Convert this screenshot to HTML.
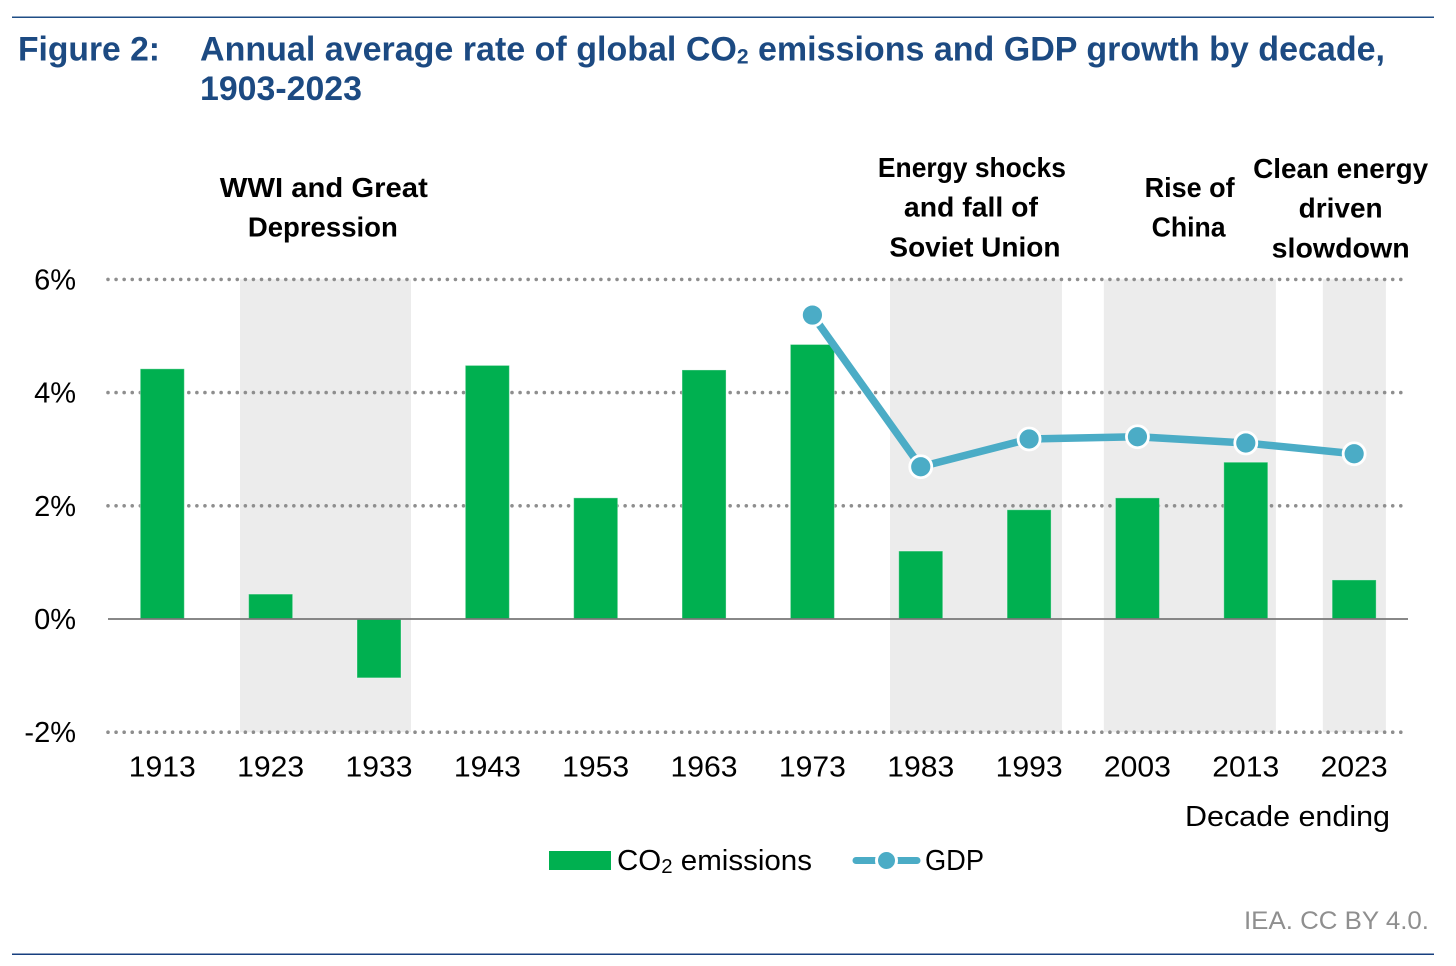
<!DOCTYPE html>
<html lang="en">
<head>
<meta charset="utf-8">
<title>Figure 2</title>
<style>
html,body{margin:0;padding:0;background:#fff;}
svg{display:block;}
text{font-family:"Liberation Sans",Arial,sans-serif;}
</style>
</head>
<body>
<svg id="chart" width="1456" height="966" viewBox="0 0 1456 966" xmlns="http://www.w3.org/2000/svg">
  <rect x="0" y="0" width="1456" height="966" fill="#ffffff"/>
  <rect x="12" y="16.5" width="1422" height="1.5" fill="#1f4e86"/>
  <rect x="12" y="953.5" width="1422" height="1.5" fill="#173f7f"/>
  <text x="18" y="60.5" font-size="34" font-weight="700" fill="#1c4a82" textLength="142" lengthAdjust="spacingAndGlyphs">Figure 2:</text>
  <text x="200" y="60.5" font-size="34" font-weight="700" fill="#1c4a82" textLength="1185" lengthAdjust="spacingAndGlyphs">Annual average rate of global CO<tspan font-size="21" dy="3">2</tspan><tspan dy="-3"> emissions and GDP growth by decade,</tspan></text>
  <text x="200" y="100" font-size="34" font-weight="700" fill="#1c4a82" textLength="162" lengthAdjust="spacingAndGlyphs">1903-2023</text>

  <g id="bands"></g>
  <g id="grid"></g>
  <g id="bars"></g>
  <g id="axis"></g>
  <g id="line"></g>
  <g id="annotations"></g>

  <text x="1185" y="826" font-size="29" fill="#000" textLength="205" lengthAdjust="spacingAndGlyphs">Decade ending</text>

  <g>
    <rect x="549" y="851" width="62" height="19" fill="#00b050"/>
    <text x="617" y="870" font-size="29" fill="#000" textLength="195" lengthAdjust="spacingAndGlyphs">CO<tspan font-size="20" dy="3">2</tspan><tspan dy="-3"> emissions</tspan></text>
    <line x1="856" y1="860.5" x2="917" y2="860.5" stroke="#4bacc6" stroke-width="7" stroke-linecap="round"/>
    <circle cx="886.5" cy="860.5" r="10" fill="#4bacc6" stroke="#fff" stroke-width="3"/>
    <text x="925" y="870" font-size="29" fill="#000" textLength="59" lengthAdjust="spacingAndGlyphs">GDP</text>
  </g>

  <text x="1244" y="929" font-size="25" fill="#8f8f8f" textLength="185" lengthAdjust="spacingAndGlyphs">IEA. CC BY 4.0.</text>
</svg>
<script>
var decades = ['1913','1923','1933','1943','1953','1963','1973','1983','1993','2003','2013','2023'];
var co2Values = [4.42,0.44,-1.04,4.48,2.14,4.40,4.85,1.20,1.93,2.14,2.77,0.69];
var gdpValues = [null,null,null,null,null,null,5.37,2.69,3.18,3.22,3.11,2.92];
var yTicks = [6,4,2,0,-2];
var shadedRanges = [[1920.17,1935.95],[1980.16,1996.03],[1999.9,2015.78],[2020.11,2025.93]];
var annotationTexts = [
  {name:'wwi-and-depression', year:1928, lines:['WWI and Great','Depression'], shifts:[-1,-2], widths:[208,150], top:197},
  {name:'energy-shocks', year:1988, lines:['Energy shocks','and fall of','Soviet Union'], shifts:[-3,-4,0], widths:[188,134,171], top:177},
  {name:'rise-of-china', year:2008, lines:['Rise of','China'], shifts:[-2,-3], widths:[90,74], top:197},
  {name:'clean-energy', year:2023, lines:['Clean energy','driven','slowdown'], shifts:[-13.5,-13.5,-13.5], widths:[175,84,138], top:178}
];

var NS = 'http://www.w3.org/2000/svg';
function make(tag, parent, attrs) {
  var el = document.createElementNS(NS, tag);
  for (var k in attrs) { el.setAttribute(k, attrs[k]); }
  parent.appendChild(el);
  return el;
}
function xYear(y) { return 162.3 + (y - 1913) * 10.835; }
function xPos(i) { return xYear(Number(decades[i])); }
function yPos(v) { return 619 - v * 56.6; }

var bandsG = document.getElementById('bands');
shadedRanges.forEach(function (r) {
  var left = xYear(r[0]);
  var right = xYear(r[1]);
  var band = make('rect', bandsG, {x:left, y:yPos(6), width:right - left, height:yPos(-2) - yPos(6), fill:'#ececec'});
  
  
});

var gridG = document.getElementById('grid');
var axisG = document.getElementById('axis');
yTicks.forEach(function (t) {
  if (t !== 0) {
    var g = make('line', gridG, {x1:108, x2:1404, y1:yPos(t), y2:yPos(t), stroke:'#8e8e8e', 'stroke-width':3.6, 'stroke-linecap':'round', 'stroke-dasharray':'0 8.08'});
    
    
  }
  var lab = make('text', axisG, {x:76, y:yPos(t) + 10, 'font-size':29, fill:'#000', 'text-anchor':'end'});
  
  
  lab.textContent = t + '%';
});

var barsG = document.getElementById('bars');
co2Values.forEach(function (v, i) {
  var top = v >= 0 ? yPos(v) : yPos(0);
  var h = Math.abs(yPos(v) - yPos(0));
  var bar = make('rect', barsG, {x:xPos(i) - 22, y:top, width:44, height:h, fill:'#00b050', stroke:'#ffffff', 'stroke-opacity':0.35, 'stroke-width':1});
  
  
});

var zero = make('line', axisG, {x1:108, x2:1408, y1:yPos(0), y2:yPos(0), stroke:'#777777', 'stroke-width':1.8});



decades.forEach(function (d, i) {
  var lab = make('text', axisG, {x:xPos(i), y:776.5, 'font-size':29, fill:'#000', 'text-anchor':'middle', textLength:67, lengthAdjust:'spacingAndGlyphs'});
  
  
  lab.textContent = d;
});

var lineG = document.getElementById('line');
var pts = [];
gdpValues.forEach(function (v, i) {
  if (v !== null) { pts.push(xPos(i) + ',' + yPos(v)); }
});
var poly = make('polyline', lineG, {points:pts.join(' '), fill:'none', stroke:'#4bacc6', 'stroke-width':7.5, 'stroke-linejoin':'round'});


gdpValues.forEach(function (v, i) {
  if (v !== null) {
    var c = make('circle', lineG, {cx:xPos(i), cy:yPos(v), r:11, fill:'#4bacc6', stroke:'#ffffff', 'stroke-width':2.8});
    
    
  }
});

var annG = document.getElementById('annotations');
annotationTexts.forEach(function (a) {
  a.lines.forEach(function (line, j) {
    var cx = xYear(a.year) + a.shifts[j];
    var t = make('text', annG, {x:cx, y:a.top + j * 39.7, 'font-size':28, 'font-weight':700, fill:'#000', 'text-anchor':'middle', textLength:a.widths[j], lengthAdjust:'spacingAndGlyphs'});
    
    
    t.textContent = line;
  });
});
</script>
</body>
</html>
